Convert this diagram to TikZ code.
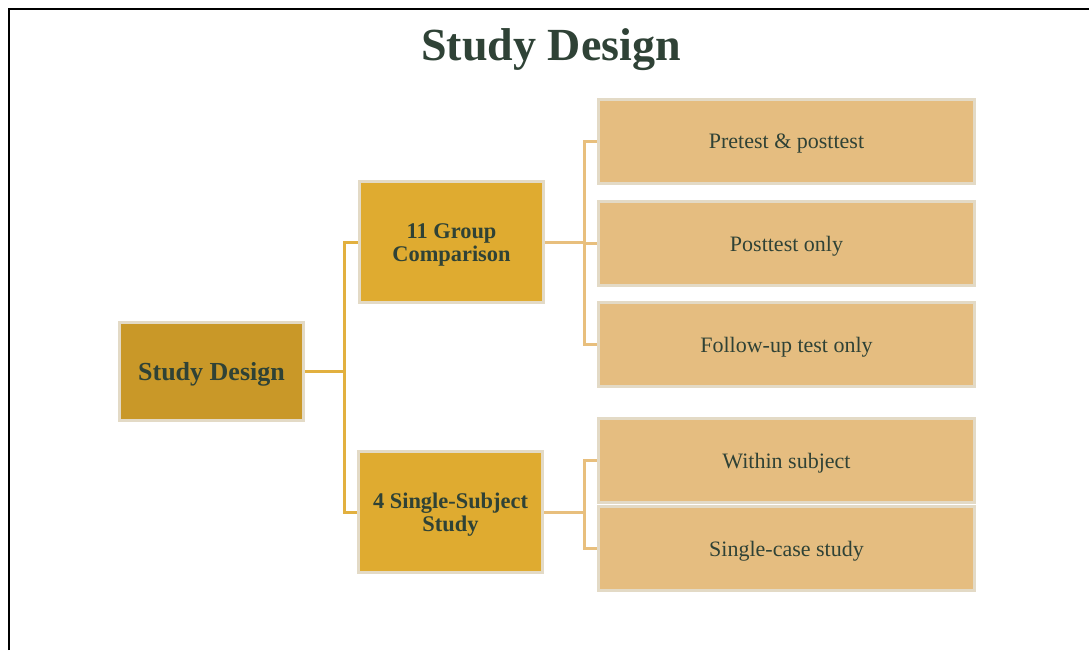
\documentclass[tikz,border=0pt]{standalone}
\usepackage{fontspec}
\setmainfont{Liberation Serif}
\definecolor{txt}{HTML}{2F4236}
\definecolor{rim}{HTML}{E3DAC6}
\definecolor{rootfill}{HTML}{C99828}
\definecolor{midfill}{HTML}{DFAB30}
\definecolor{leaffill}{HTML}{E5BD80}
\definecolor{linkA}{HTML}{E2B03F}
\definecolor{linkB}{HTML}{E8BF7D}
\tikzset{
  box/.style={rectangle, draw=rim, line width=2.25pt, outer sep=0pt, inner sep=0pt},
  % caption set slightly below the geometric centre of its box
  boxtext/.style={text=txt, align=center, inner sep=0pt, yshift=-2.25pt},
  rootbox/.style={box, fill=rootfill, minimum width=138pt, minimum height=73.5pt},
  midbox/.style={box, fill=midfill, minimum width=138pt, minimum height=90.75pt},
  leafbox/.style={box, fill=leaffill, minimum width=282pt, minimum height=63pt},
  roottext/.style={boxtext, font=\fontsize{19.5}{23}\selectfont\bfseries},
  midtext/.style={boxtext, font=\fontsize{16.8}{17.3}\selectfont\bfseries},
  leaftext/.style={boxtext, font=\fontsize{16.5}{19}\selectfont},
  linkone/.style={draw=linkA, line width=2.25pt},
  linktwo/.style={draw=linkB, line width=2.25pt},
}
\begin{document}
\begin{tikzpicture}[x=0.75pt, y=-0.75pt]
\useasboundingbox (0,0) rectangle (1089,650);
% frame
\draw[line width=1.6pt, black] (9,650) -- (9,9) -- (1089,9);
% title
\node[text=txt, font=\fontsize{34.5}{40}\selectfont\bfseries] (title) at (551,50) {Study Design};

% connectors first, so the boxes sit on top of them
\coordinate (busA) at (344,371.5);
\coordinate (busB) at (584,242);
\coordinate (busC) at (584,512);
\coordinate (rootE) at (305,371.5);
\coordinate (grpW) at (358,242);
\coordinate (grpE) at (545,242);
\coordinate (sglW) at (358,512);
\coordinate (sglE) at (543,512);
\coordinate (l1W) at (597,141);
\coordinate (l2W) at (597,243);
\coordinate (l3W) at (597,344.5);
\coordinate (l4W) at (597,460);
\coordinate (l5W) at (597,548);
\draw[linkone] (rootE) -- (busA) |- (grpW);
\draw[linkone] (busA) |- (sglW);
\draw[linktwo] (grpE) -- (busB) |- (l1W);
\draw[linktwo] (busB) -- (busB |- l2W) -- (l2W);
\draw[linktwo] (busB) |- (l3W);
\draw[linktwo] (sglE) -- (busC) |- (l4W);
\draw[linktwo] (busC) |- (l5W);

% boxes
\node[rootbox, label={[roottext]center:Study Design}] (root) at (211.5,371.5) {};
\node[midbox, label={[midtext]center:11 Group\\Comparison}] (grp) at (451.5,242) {};
\node[midbox, label={[midtext]center:4 Single-Subject\\Study}] (sgl) at (450.5,512) {};
\node[leafbox, label={[leaftext]center:Pretest \& posttest}] (l1) at (786.5,141) {};
\node[leafbox, label={[leaftext]center:Posttest only}] (l2) at (786.5,243) {};
\node[leafbox, label={[leaftext]center:Follow-up test only}] (l3) at (786.5,344.5) {};
\node[leafbox, label={[leaftext]center:Within subject}] (l4) at (786.5,460) {};
\node[leafbox, label={[leaftext]center:Single-case study}] (l5) at (786.5,548) {};
\end{tikzpicture}
\end{document}
